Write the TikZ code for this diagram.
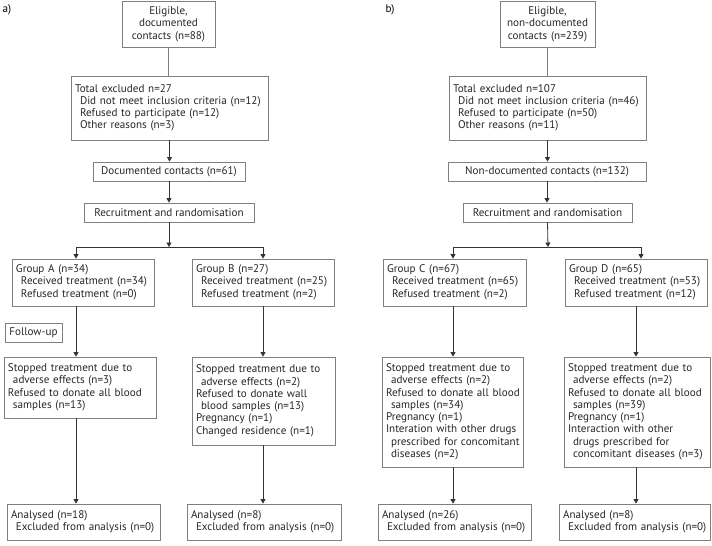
\documentclass[tikz,border=0pt]{standalone}
\usepackage{fontspec}
\setmainfont{PT Sans}
\usetikzlibrary{arrows.meta}
\definecolor{boxgray}{HTML}{7F7F7F}
\definecolor{linegray}{HTML}{333333}
\tikzset{
  box/.style={draw=boxgray, line width=0.8pt, inner sep=4pt, align=left,
    font=\fontsize{11.1}{12.3}\selectfont, text=black!85},
  cbox/.style={box, align=center},
  arr/.style={draw=linegray, line width=0.8pt, -{Triangle[length=4.5pt,width=5pt]}},
  link/.style={draw=boxgray, line width=0.8pt}
}
\newcommand{\ind}{\hspace*{5pt}}
\newcommand{\boxlines}[1]{\begin{tabular}{@{}l@{}}#1\end{tabular}}
\begin{document}
\begin{tikzpicture}[x=1pt,y=-1pt]
\useasboundingbox (0,0) rectangle (712,546);
% panel a
\node[anchor=west, font=\fontsize{11.1}{12}\selectfont] (la) at (-1,10) {a)};
\node[cbox, minimum width=93pt, minimum height=46pt, text width=85pt] (e1) at (168.5,24) {Eligible,\\documented\\contacts (n=88)};
\node[box, minimum height=64pt, text width=189pt] (x1) at (169.5,108) {\boxlines{Total excluded n=27\\\ind Did not meet inclusion criteria (n=12)\\\ind Refused to participate (n=12)\\\ind Other reasons (n=3)}};
\node[cbox, minimum width=152pt, minimum height=19pt, inner sep=2pt] (d1) at (169,171.5) {Documented contacts (n=61)};
\node[cbox, minimum width=170pt, minimum height=19pt, inner sep=2pt] (r1) at (169,212.5) {Recruitment and randomisation};
\node[box, minimum height=47pt, text width=134pt] (gA) at (83,282.5) {\boxlines{Group A (n=34)\\\ind Received treatment (n=34)\\\ind Refused treatment (n=0)}};
\node[box, minimum height=47pt, text width=134pt] (gB) at (263,282.5) {\boxlines{Group B (n=27)\\\ind Received treatment (n=25)\\\ind Refused treatment (n=2)}};
\node[cbox, minimum width=57pt, minimum height=19pt, inner sep=2pt] (fu) at (33.5,332.5) {Follow-up};
\node[box, minimum height=61pt, text width=144pt] (sA) at (80,387.5) {\boxlines{Stopped treatment due to\\\ind adverse effects (n=3)\\Refused to donate all blood\\\ind samples (n=13)}};
\node[box, minimum height=88pt, text width=135pt] (sB) at (263.5,401) {\boxlines{Stopped treatment due to\\\ind adverse effects (n=2)\\Refused to donate wall\\\ind blood samples (n=13)\\Pregnancy (n=1)\\Changed residence (n=1)}};
\node[box, minimum height=36pt, text width=145pt] (aA) at (83.5,522) {\boxlines{Analysed (n=18)\\\ind Excluded from analysis (n=0)}};
\node[box, minimum height=36pt, text width=146pt] (aB) at (264,522) {\boxlines{Analysed (n=8)\\\ind Excluded from analysis (n=0)}};
\coordinate (sl) at (169,247);
\coordinate (ja) at (76,247);
\coordinate (jb) at (263,247);
\draw[link] (e1.south) -- (e1.south |- x1.north);
\draw[arr] (x1.south) -- (x1.south |- d1.north);
\draw[arr] (d1.south) -- (d1.south |- r1.north);
\draw[arr] (r1.south) -- (sl);
\draw[linegray, line width=0.8pt] (ja) -- (jb);
\draw[arr] (ja) -- (ja |- gA.north);
\draw[arr] (jb) -- (jb |- gB.north);
\draw[arr] (gA.south -| ja) -- (sA.north -| ja);
\draw[arr] (gB.south -| jb) -- (sB.north -| jb);
\draw[arr] (sA.south -| ja) -- (aA.north -| ja);
\draw[arr] (sB.south -| jb) -- (aB.north -| jb);
% panel b
\node[anchor=west, font=\fontsize{11.1}{12}\selectfont] (lb) at (382,10) {b)};
\node[cbox, minimum width=95pt, minimum height=46pt, text width=87pt] (e2) at (547.5,24) {Eligible,\\non-documented\\contacts (n=239)};
\node[box, minimum height=64pt, text width=189pt] (x2) at (547.5,108) {\boxlines{Total excluded n=107\\\ind Did not meet inclusion criteria (n=46)\\\ind Refused to participate (n=50)\\\ind Other reasons (n=11)}};
\node[cbox, minimum width=198pt, minimum height=19pt, inner sep=2pt] (d2) at (547,171.5) {Non-documented contacts (n=132)};
\node[cbox, minimum width=169pt, minimum height=19pt, inner sep=2pt] (r2) at (547.5,212.5) {Recruitment and randomisation};
\node[box, minimum height=47pt, text width=135pt] (gC) at (454.5,282.5) {\boxlines{Group C (n=67)\\\ind Received treatment (n=65)\\\ind Refused treatment (n=2)}};
\node[box, minimum height=47pt, text width=134pt] (gD) at (636,282.5) {\boxlines{Group D (n=65)\\\ind Received treatment (n=53)\\\ind Refused treatment (n=12)}};
\node[box, minimum height=110pt, text width=133pt] (sC) at (452.5,412) {\boxlines{Stopped treatment due to\\\ind adverse effects (n=2)\\Refused to donate all blood\\\ind samples (n=34)\\Pregnancy (n=1)\\Interation with other drugs\\\ind prescribed for concomitant\\\ind diseases (n=2)}};
\node[box, minimum height=110pt, text width=138pt] (sD) at (637,412) {\boxlines{Stopped treatment due to\\\ind adverse effects (n=2)\\Refused to donate all blood\\\ind samples (n=39)\\Pregnancy (n=1)\\Interaction with other\\\ind drugs prescribed for\\\ind concomitant diseases (n=3)}};
\node[box, minimum height=36pt, text width=145pt] (aC) at (454.5,522) {\boxlines{Analysed (n=26)\\\ind Excluded from analysis (n=0)}};
\node[box, minimum height=36pt, text width=143pt] (aD) at (634.5,522) {\boxlines{Analysed (n=8)\\\ind Excluded from analysis (n=0)}};
\coordinate (sr) at (548,247);
\coordinate (jc) at (453,247);
\coordinate (jd) at (641,247);
\coordinate (kd) at (636,247);
\draw[link] (e2.south) -- (e2.south |- x2.north);
\draw[arr] (x2.south) -- (x2.south |- d2.north);
\draw[arr] (d2.south) -- (d2.south |- r2.north);
\draw[arr] (r2.south) -- (sr);
\draw[linegray, line width=0.8pt] (jc) -- (jd);
\draw[arr] (jc) -- (jc |- gC.north);
\draw[arr] (jd) -- (jd |- gD.north);
\draw[arr] (gC.south -| jc) -- (sC.north -| jc);
\draw[arr] (gD.south -| kd) -- (sD.north -| kd);
\draw[arr] (sC.south -| jc) -- (aC.north -| jc);
\draw[arr] (sD.south -| kd) -- (aD.north -| kd);
\end{tikzpicture}
\end{document}
